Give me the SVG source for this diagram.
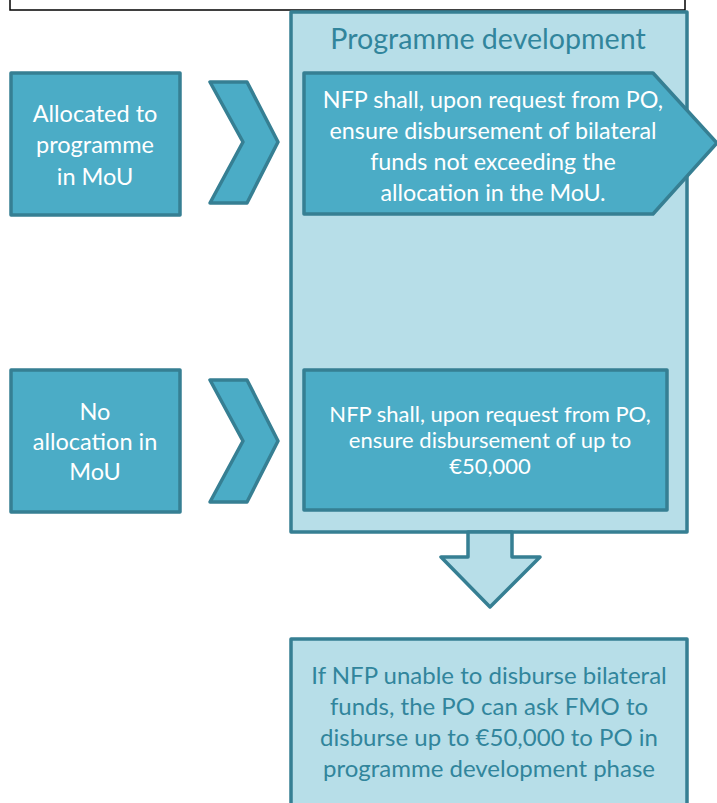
<svg xmlns="http://www.w3.org/2000/svg" width="717" height="803" viewBox="0 0 717 803">
<style>
.box{fill:#4BACC6;stroke:#367F93;stroke-width:3.5;stroke-linejoin:round}
.lt{fill:#B7DEE8;stroke:#367F93;stroke-width:3.5;stroke-linejoin:round}
.w{font-family:Lato,"Liberation Sans",sans-serif;fill:#fff;text-anchor:middle}
.d{font-family:Lato,"Liberation Sans",sans-serif;fill:#31859C;text-anchor:middle}
</style>
<rect x="0" y="0" width="717" height="803" fill="#fff"/>
<rect id="topbox" x="10" y="-20" width="675" height="30" fill="#fff" stroke="#000" stroke-width="1.5"/>
<g id="container">
<rect class="lt" x="291" y="12" width="396" height="520"/>
<text class="d" x="488" y="49" font-size="28.6">Programme development</text>
</g>
<g id="connectors">
<polygon class="box" points="210,82 247,82 278,142 247,203 210,203 243,142"/>
<polygon class="box" points="210,380 247,380 278,441 247,502 210,502 243,441"/>
<polygon class="lt" points="468,532 512,532 512,557 540,557 490,607 441,557 468,557"/>
</g>
<g id="n1">
<rect class="box" x="11" y="73" width="169" height="142"/>
<text class="w" font-size="23.5"><tspan x="95" y="122">Allocated to</tspan><tspan x="95" y="153">programme</tspan><tspan x="95" y="185">in MoU</tspan></text>
</g>
<g id="n2">
<rect class="box" x="11" y="370" width="169" height="142"/>
<text class="w" font-size="23.5"><tspan x="95" y="420">No</tspan><tspan x="95" y="450">allocation in</tspan><tspan x="95" y="480">MoU</tspan></text>
</g>
<g id="n3">
<polygon class="box" points="304,73 653,73 717,143 653,214 304,214"/>
<text class="w" font-size="23.3"><tspan x="493" y="108">NFP shall, upon request from PO,</tspan><tspan x="493" y="139">ensure disbursement of bilateral</tspan><tspan x="493" y="170">funds not exceeding the</tspan><tspan x="493" y="201">allocation in the MoU.</tspan></text>
</g>
<g id="n4">
<rect class="box" x="304" y="370" width="363" height="140"/>
<text class="w" font-size="22"><tspan x="490" y="422">NFP shall, upon request from PO,</tspan><tspan x="490" y="448">ensure disbursement of up to</tspan><tspan x="490" y="474">€50,000</tspan></text>
</g>
<g id="n5">
<rect class="lt" x="291" y="639" width="396" height="180"/>
<text class="d" font-size="24"><tspan x="489" y="684">If NFP unable to disburse bilateral</tspan><tspan x="489" y="715">funds, the PO can ask FMO to</tspan><tspan x="489" y="746">disburse up to €50,000 to PO in</tspan><tspan x="489" y="777">programme development phase</tspan></text>
</g>
</svg>
